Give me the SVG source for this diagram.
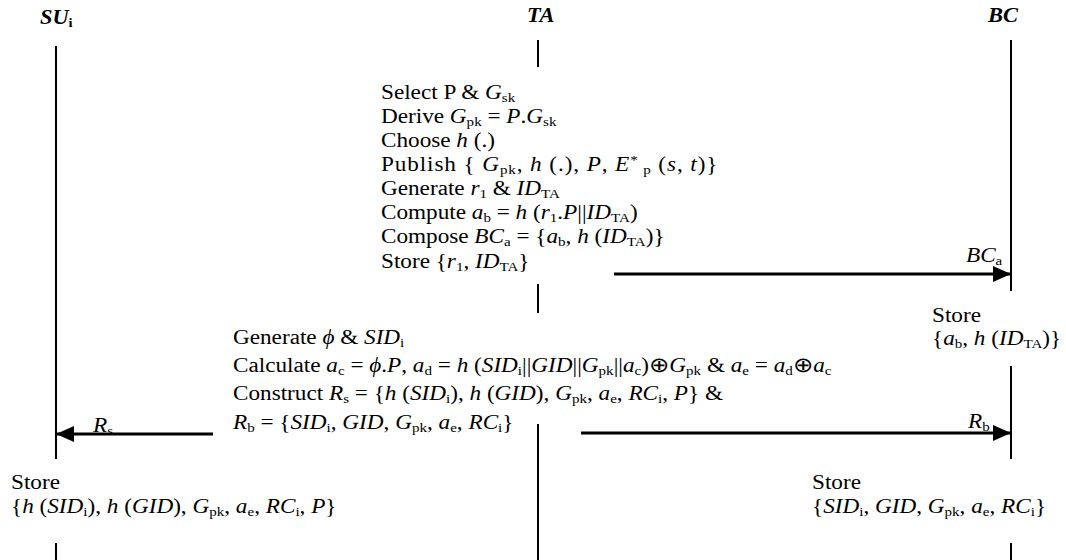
<svg xmlns="http://www.w3.org/2000/svg" width="1066" height="560" viewBox="0 0 1066 560">
<style>
text{font-family:"Liberation Serif","Times New Roman",serif;font-size:20px;fill:#000}
.hd{font-weight:bold;font-style:italic;font-size:20px}
.i{font-style:italic}
.s{font-size:13px;font-style:normal}
.op{font-family:"DejaVu Sans","Noto Sans",sans-serif;font-size:21px;font-weight:200;font-style:normal}
.life{stroke:#000;stroke-width:2;fill:none}
.msg{stroke:#000;stroke-width:3;fill:none;marker-end:url(#ah)}
</style>
<defs>
<marker id="ah" viewBox="0 0 18 16" refX="18" refY="8" markerWidth="18" markerHeight="16" markerUnits="userSpaceOnUse" orient="auto">
<path d="M0,0 L18,8 L0,16 Z" fill="#000"/>
</marker>
</defs>
<rect width="1066" height="560" fill="#fff"/>

<g id="node-su">
<text class="hd" transform="translate(40,24) scale(1.12,1)">SU<tspan class="s" font-weight="bold" dy="3">i</tspan></text>
<line class="life" x1="56" y1="46" x2="56" y2="459"/>
<line class="life" x1="56" y1="543" x2="56" y2="560"/>
<text transform="translate(11,489) scale(1.16,1)">Store</text>
<text transform="translate(11,513) scale(1.16,1)">{<tspan class="i">h</tspan> (<tspan class="i">SID</tspan><tspan class="s" dy="3">i</tspan><tspan dy="-3">), </tspan><tspan class="i">h</tspan> (<tspan class="i">GID</tspan>), <tspan class="i">G</tspan><tspan class="s" dy="3">pk</tspan><tspan dy="-3">, </tspan><tspan class="i">a</tspan><tspan class="s" dy="3">e</tspan><tspan dy="-3">, </tspan><tspan class="i">RC</tspan><tspan class="s" dy="3">i</tspan><tspan dy="-3">, </tspan><tspan class="i">P</tspan>}</text>
</g>

<g id="node-ta">
<text class="hd" transform="translate(527,22) scale(1.12,1)">TA</text>
<line class="life" x1="538" y1="40" x2="538" y2="67"/>
<line class="life" x1="538" y1="284" x2="538" y2="313"/>
<line class="life" x1="538" y1="424" x2="538" y2="560"/>
<text transform="translate(381,99) scale(1.16,1)">Select P &amp; <tspan class="i">G</tspan><tspan class="s" dy="3">sk</tspan></text>
<text transform="translate(381,123) scale(1.16,1)">Derive <tspan class="i">G</tspan><tspan class="s" dy="3">pk</tspan><tspan dy="-3"> = </tspan><tspan class="i">P</tspan>.<tspan class="i">G</tspan><tspan class="s" dy="3">sk</tspan></text>
<text transform="translate(381,147) scale(1.16,1)">Choose <tspan class="i">h</tspan> (.)</text>
<text transform="translate(381,171) scale(1.16,1)" textLength="290" lengthAdjust="spacing">Publish { <tspan class="i">G</tspan><tspan class="s" dy="3">pk</tspan><tspan dy="-3">, </tspan><tspan class="i">h</tspan> (.), <tspan class="i">P</tspan>, <tspan class="i">E</tspan><tspan class="s" dy="-7">*</tspan><tspan class="s" dy="10"> p</tspan><tspan dy="-3"> (</tspan><tspan class="i">s</tspan>, <tspan class="i">t</tspan>)}</text>
<text transform="translate(381,195) scale(1.16,1)">Generate <tspan class="i">r</tspan><tspan class="s" dy="3">1</tspan><tspan dy="-3"> &amp; </tspan><tspan class="i">ID</tspan><tspan class="s" dy="3">TA</tspan></text>
<text transform="translate(381,219) scale(1.16,1)">Compute <tspan class="i">a</tspan><tspan class="s" dy="3">b</tspan><tspan dy="-3"> = </tspan><tspan class="i">h</tspan> (<tspan class="i">r</tspan><tspan class="s" dy="3">1</tspan><tspan dy="-3">.</tspan><tspan class="i">P</tspan>||<tspan class="i">ID</tspan><tspan class="s" dy="3">TA</tspan><tspan dy="-3">)</tspan></text>
<text transform="translate(381,243) scale(1.16,1)">Compose <tspan class="i">BC</tspan><tspan class="s" dy="3">a</tspan><tspan dy="-3"> = {</tspan><tspan class="i">a</tspan><tspan class="s" dy="3">b</tspan><tspan dy="-3">, </tspan><tspan class="i">h</tspan> (<tspan class="i">ID</tspan><tspan class="s" dy="3">TA</tspan><tspan dy="-3">)}</tspan></text>
<text transform="translate(381,268) scale(1.16,1)">Store {<tspan class="i">r</tspan><tspan class="s" dy="3">1</tspan><tspan dy="-3">, </tspan><tspan class="i">ID</tspan><tspan class="s" dy="3">TA</tspan><tspan dy="-3">}</tspan></text>
<text transform="translate(233,344) scale(1.16,1)">Generate <tspan class="i">ϕ</tspan> &amp; <tspan class="i">SID</tspan><tspan class="s" dy="3">i</tspan></text>
<text transform="translate(233,372) scale(1.16,1)">Calculate <tspan class="i">a</tspan><tspan class="s" dy="3">c</tspan><tspan dy="-3"> = </tspan><tspan class="i">ϕ</tspan>.<tspan class="i">P</tspan>, <tspan class="i">a</tspan><tspan class="s" dy="3">d</tspan><tspan dy="-3"> = </tspan><tspan class="i">h</tspan> (<tspan class="i">SID</tspan><tspan class="s" dy="3">i</tspan><tspan dy="-3">||</tspan><tspan class="i">GID</tspan>||<tspan class="i">G</tspan><tspan class="s" dy="3">pk</tspan><tspan dy="-3">||</tspan><tspan class="i">a</tspan><tspan class="s" dy="3">c</tspan><tspan dy="-3">)</tspan><tspan class="op">⊕</tspan><tspan class="i">G</tspan><tspan class="s" dy="3">pk</tspan><tspan dy="-3"> &amp; </tspan><tspan class="i">a</tspan><tspan class="s" dy="3">e</tspan><tspan dy="-3"> = </tspan><tspan class="i">a</tspan><tspan class="s" dy="3">d</tspan><tspan class="op" dy="-3">⊕</tspan><tspan class="i">a</tspan><tspan class="s" dy="3">c</tspan></text>
<text transform="translate(233,400) scale(1.16,1)">Construct <tspan class="i">R</tspan><tspan class="s" dy="3">s</tspan><tspan dy="-3"> = {</tspan><tspan class="i">h</tspan> (<tspan class="i">SID</tspan><tspan class="s" dy="3">i</tspan><tspan dy="-3">), </tspan><tspan class="i">h</tspan> (<tspan class="i">GID</tspan>), <tspan class="i">G</tspan><tspan class="s" dy="3">pk</tspan><tspan dy="-3">, </tspan><tspan class="i">a</tspan><tspan class="s" dy="3">e</tspan><tspan dy="-3">, </tspan><tspan class="i">RC</tspan><tspan class="s" dy="3">i</tspan><tspan dy="-3">, </tspan><tspan class="i">P</tspan>} &amp;</text>
<text transform="translate(233,429) scale(1.16,1)"><tspan class="i">R</tspan><tspan class="s" dy="3">b</tspan><tspan dy="-3"> = {</tspan><tspan class="i">SID</tspan><tspan class="s" dy="3">i</tspan><tspan dy="-3">, </tspan><tspan class="i">GID</tspan>, <tspan class="i">G</tspan><tspan class="s" dy="3">pk</tspan><tspan dy="-3">, </tspan><tspan class="i">a</tspan><tspan class="s" dy="3">e</tspan><tspan dy="-3">, </tspan><tspan class="i">RC</tspan><tspan class="s" dy="3">i</tspan><tspan dy="-3">}</tspan></text>
</g>

<g id="node-bc">
<text class="hd" transform="translate(988,22) scale(1.12,1)">BC</text>
<line class="life" x1="1011" y1="40" x2="1011" y2="291"/>
<line class="life" x1="1011" y1="366" x2="1011" y2="459"/>
<line class="life" x1="1011" y1="543" x2="1011" y2="560"/>
<text transform="translate(932,322) scale(1.16,1)">Store</text>
<text transform="translate(932,345) scale(1.16,1)">{<tspan class="i">a</tspan><tspan class="s" dy="3">b</tspan><tspan dy="-3">, </tspan><tspan class="i">h</tspan> (<tspan class="i">ID</tspan><tspan class="s" dy="3">TA</tspan><tspan dy="-3">)}</tspan></text>
<text transform="translate(812,489) scale(1.16,1)">Store</text>
<text transform="translate(812,513) scale(1.16,1)">{<tspan class="i">SID</tspan><tspan class="s" dy="3">i</tspan><tspan dy="-3">, </tspan><tspan class="i">GID</tspan>, <tspan class="i">G</tspan><tspan class="s" dy="3">pk</tspan><tspan dy="-3">, </tspan><tspan class="i">a</tspan><tspan class="s" dy="3">e</tspan><tspan dy="-3">, </tspan><tspan class="i">RC</tspan><tspan class="s" dy="3">i</tspan><tspan dy="-3">}</tspan></text>
</g>

<g id="connectors">
<line class="msg" x1="614" y1="274" x2="1011" y2="274"/>
<text transform="translate(966,262) scale(1.16,1)"><tspan class="i">BC</tspan><tspan class="s" dy="3">a</tspan></text>
<line class="msg" x1="581" y1="433" x2="1011" y2="433"/>
<text transform="translate(968,428) scale(1.16,1)"><tspan class="i">R</tspan><tspan class="s" dy="3">b</tspan></text>
<line class="msg" x1="213" y1="434" x2="56" y2="434"/>
<text transform="translate(93,432) scale(1.16,1)"><tspan class="i">R</tspan><tspan class="s" dy="3">s</tspan></text>
</g>
</svg>
